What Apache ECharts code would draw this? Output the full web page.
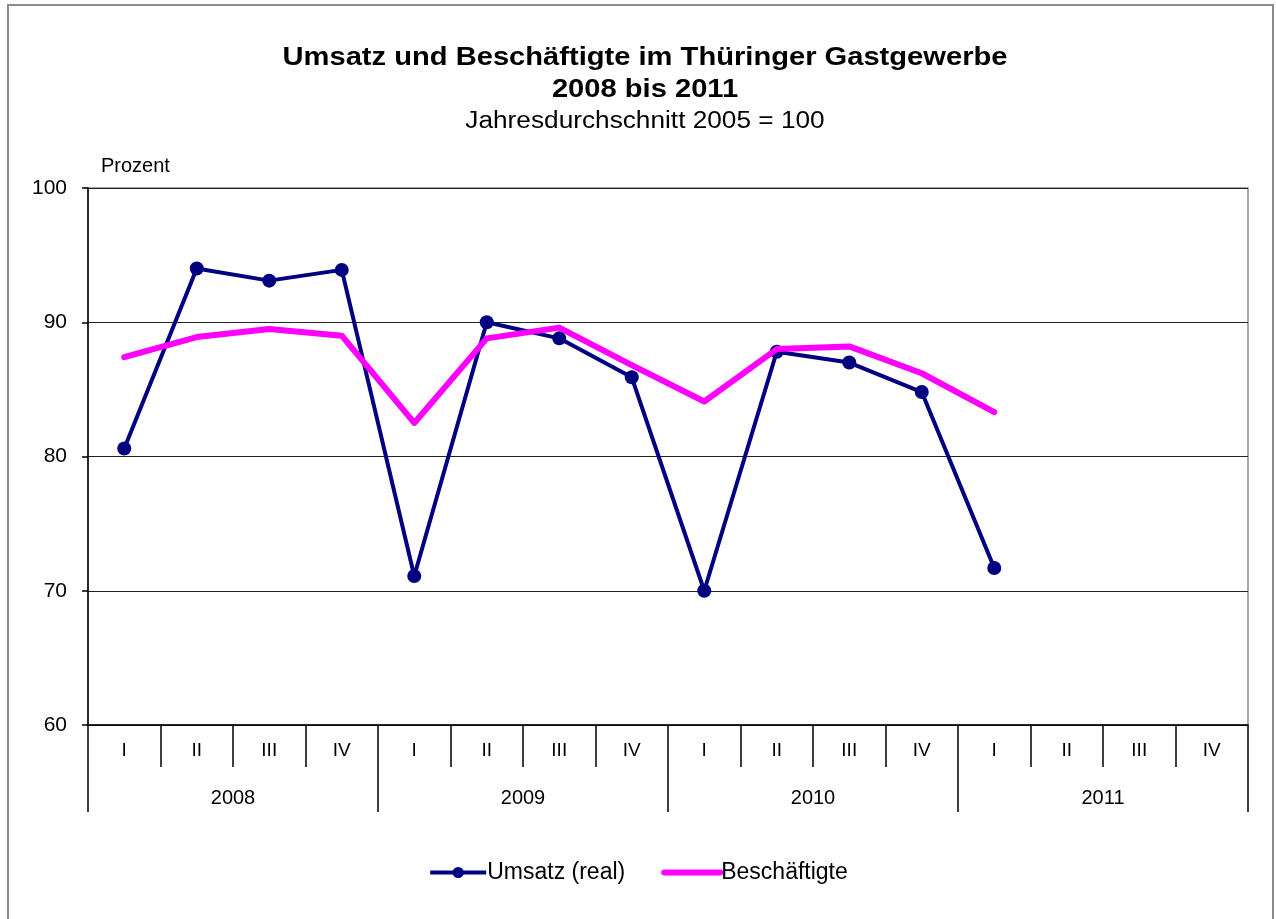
<!DOCTYPE html>
<html>
<head>
<meta charset="utf-8">
<script src="https://cdn.jsdelivr.net/npm/echarts@6/dist/echarts.min.js"></script>
<style>
  html, body { margin: 0; padding: 0; background: #fff; }
  #chart { width: 1276px; height: 919px; }
</style>
</head>
<body>
<div id="chart"></div>
<script>
// quarters and years for the two-level category axis
const quarters = ['I', 'II', 'III', 'IV', 'I', 'II', 'III', 'IV', 'I', 'II', 'III', 'IV', 'I', 'II', 'III', 'IV']
const years = ['2008', '2009', '2010', '2011']

// values (2005 = 100)
const umsatz = [80.6, 94.0, 93.1, 93.9, 71.1, 90.0, 88.8, 85.9, 70.0, 87.8, 87.0, 84.8, 71.7, null, null, null]
const beschaeftigte = [87.4, 88.9, 89.5, 89.0, 82.5, 88.8, 89.6, 86.8, 84.1, 88.0, 88.2, 86.2, 83.3, null, null, null]

const yTicks = { min: 60, max: 100, interval: 10 }

const font = '"Liberation Sans", Arial, sans-serif'
const chart = echarts.init(document.getElementById('chart'))

// title lines are a bit wider than the font gives, so stretch them slightly
function titleText(text, y, size, weight, sx) {
  return {
    type: 'text',
    x: 645,
    y: y,
    scaleX: sx,
    silent: true,
    style: {
      text: text,
      fill: '#000',
      font: weight + ' ' + size + 'px ' + font,
      align: 'center',
      verticalAlign: 'middle',
      textAlign: 'center',
      textVerticalAlign: 'middle'
    }
  }
}

const option = {
  backgroundColor: '#fff',
  textStyle: { fontFamily: font, color: '#000' },
  title: {
    text: 'Prozent',
    left: 96,
    top: 151,
    textStyle: { fontSize: 20, fontWeight: 'normal', color: '#000', fontFamily: font }
  },
  graphic: [
    {
      type: 'rect',
      shape: { x: 8, y: 5, width: 1265, height: 925 },
      style: { fill: 'none', stroke: '#8c8c8c', lineWidth: 2 },
      silent: true
    },
    titleText('Umsatz und Beschäftigte im Thüringer Gastgewerbe', 58, 26, 'bold', 1.12),
    titleText('2008 bis 2011', 90, 26, 'bold', 1.12),
    titleText('Jahresdurchschnitt 2005 = 100', 122, 23, 'normal', 1.14)
  ],
  legend: {
    bottom: 30,
    left: 'center',
    itemWidth: 56,
    itemHeight: 14,
    itemGap: 36,
    lineStyle: { width: 'inherit' },
    textStyle: { fontSize: 23, color: '#000', fontFamily: font, padding: [0, 0, 0, -4] },
    data: [
      { name: 'Umsatz (real)' },
      { name: 'Beschäftigte', itemStyle: { color: 'rgba(0,0,0,0)', borderWidth: 0 } }
    ]
  },
  grid: {
    left: 88,
    right: 28,
    top: 188,
    bottom: 194,
    show: true,
    borderColor: '#8c8c8c',
    borderWidth: 1.5,
    backgroundColor: 'transparent'
  },
  xAxis: [
    {
      type: 'category',
      data: quarters,
      position: 'bottom',
      boundaryGap: true,
      axisLine: { show: true, lineStyle: { color: '#000', width: 1.5 } },
      axisTick: { show: true, interval: 0, length: 42, lineStyle: { color: '#000', width: 1.5 } },
      axisLabel: { interval: 0, margin: 16, fontSize: 19, color: '#000', fontFamily: font }
    },
    {
      type: 'category',
      data: years,
      position: 'bottom',
      boundaryGap: true,
      axisLine: { show: false },
      axisTick: { show: true, interval: 0, length: 87, lineStyle: { color: '#000', width: 1.5 } },
      axisLabel: { interval: 0, margin: 63, fontSize: 20, color: '#000', fontFamily: font }
    }
  ],
  yAxis: {
    type: 'value',
    min: yTicks.min,
    max: yTicks.max,
    interval: yTicks.interval,
    axisLine: { show: true, lineStyle: { color: '#000', width: 1.5 } },
    axisTick: { show: true, length: 6, lineStyle: { color: '#000', width: 1.5 } },
    axisLabel: { margin: 21, fontSize: 21, color: '#000', fontFamily: font },
    splitLine: { lineStyle: { color: '#222', width: 1.2 } }
  },
  series: [
    {
      name: 'Umsatz (real)',
      type: 'line',
      xAxisIndex: 0,
      data: umsatz,
      symbol: 'circle',
      symbolSize: 14,
      itemStyle: { color: '#000080' },
      lineStyle: { color: '#000080', width: 4 },
      z: 3
    },
    {
      name: 'Beschäftigte',
      type: 'line',
      xAxisIndex: 0,
      data: beschaeftigte,
      symbol: 'none',
      itemStyle: { color: '#ff00ff' },
      lineStyle: { color: '#ff00ff', width: 6, cap: 'round', join: 'round' },
      z: 4
    }
  ]
}

chart.setOption(option)
</script>
</body>
</html>
